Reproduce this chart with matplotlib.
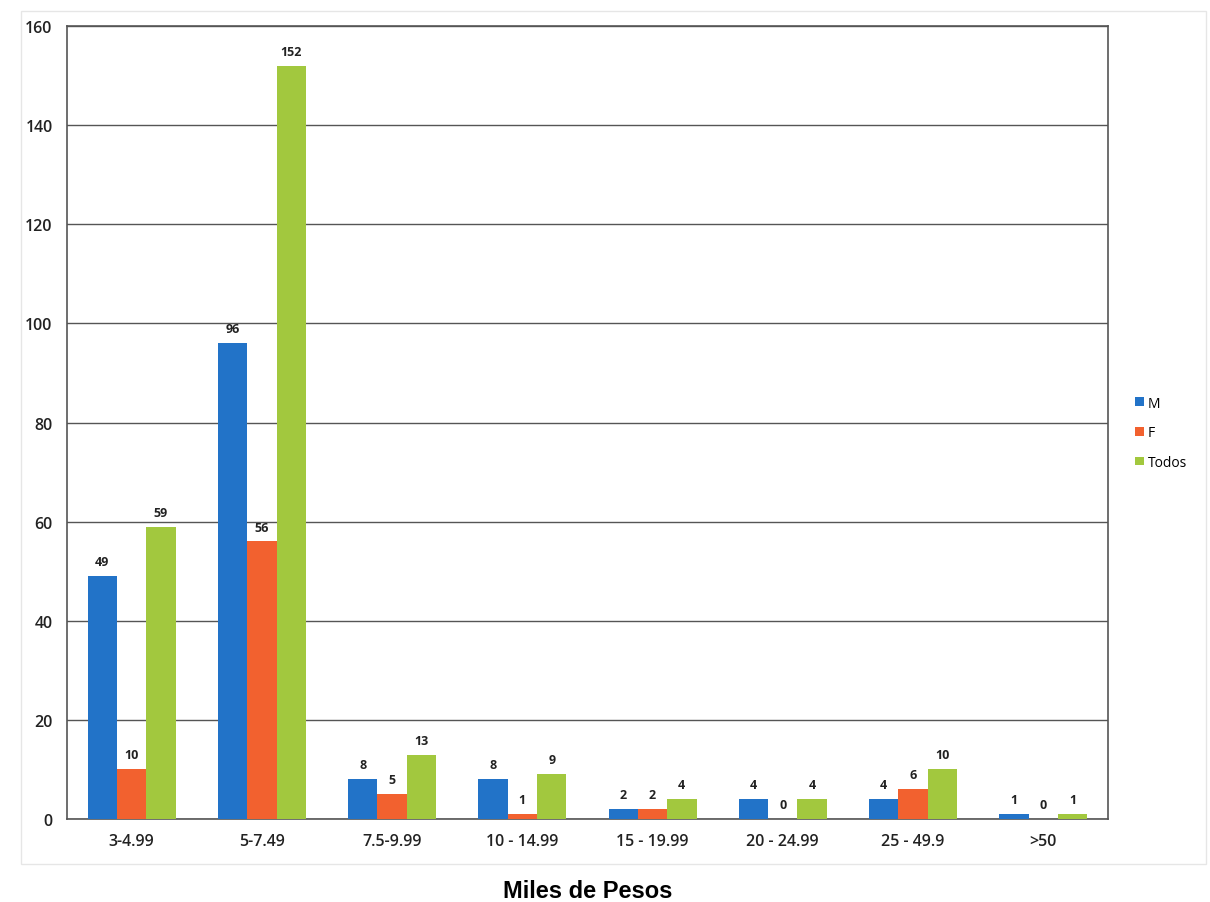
import matplotlib.pyplot as plt
import numpy as np

categories = ['3-4.99', '5-7.49', '7.5-9.99', '10 - 14.99', '15 - 19.99',
              '20 - 24.99', '25 - 49.9', '>50']
m_vals = [49, 96, 8, 8, 2, 4, 4, 1]
f_vals = [10, 56, 5, 1, 2, 0, 6, 0]
todos_vals = [59, 152, 13, 9, 4, 4, 10, 1]

plt.rcParams['font.family'] = ['Open Sans', 'DejaVu Sans']

fig = plt.figure(figsize=(12.1, 9.03), dpi=100)
ax = fig.add_axes([0.055, 0.092, 0.861, 0.878])

# faint frame round the whole chart
fig.patches.append(plt.Rectangle((0.017, 0.042), 0.98, 0.945, transform=fig.transFigure,
                                 fill=False, edgecolor='#e6e6e6', linewidth=1))

x = np.arange(len(categories))
w = 0.225
series = [(m_vals, '#2273c8', 'M'), (f_vals, '#f2612f', 'F'), (todos_vals, '#a2c83e', 'Todos')]
for i, (vals, col, lab) in enumerate(series):
    bars = ax.bar(x + (i - 1) * w, vals, w, color=col, label=lab, zorder=3)
    for b, v in zip(bars, vals):
        ax.text(b.get_x() + b.get_width() / 2, v + 1.6, str(v), ha='center', va='bottom',
                fontsize=9, fontweight='bold', color='#222222')

ax.set_ylim(0, 160)
ax.set_xlim(-0.5, len(categories) - 0.5)
ax.set_yticks(range(0, 161, 20))
ax.set_xticks(x)
ax.set_xticklabels(categories)
ax.tick_params(axis='both', labelsize=11.5, colors='#222222', length=0, pad=10)
for lbl in ax.get_xticklabels() + ax.get_yticklabels():
    lbl.set_fontweight('semibold')
ax.yaxis.grid(True, color='#555555', linewidth=1, zorder=0)
for s in ax.spines.values():
    s.set_color('#555555')
    s.set_linewidth(1.2)

ax.set_xlabel('Miles de Pesos', family='Liberation Sans', fontsize=17, fontweight='bold',
              labelpad=22)

ax.legend(loc='center left', bbox_to_anchor=(1.014, 0.487), frameon=False, fontsize=10,
          handlelength=0.6, handleheight=0.6, handletextpad=0.3, labelspacing=1.05)

fig.savefig('out.png', dpi=100)
